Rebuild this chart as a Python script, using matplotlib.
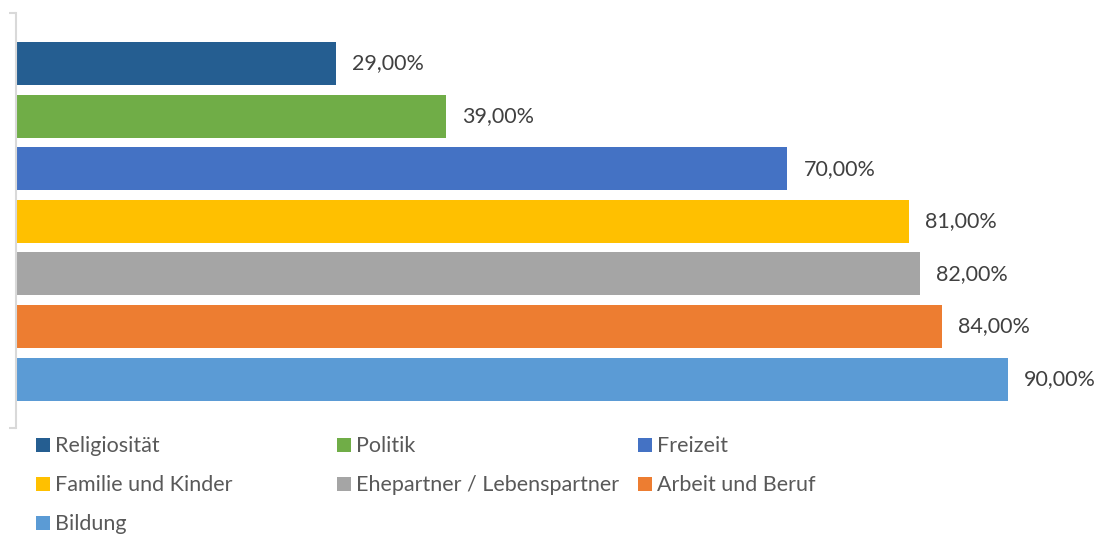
import matplotlib.pyplot as plt
from matplotlib.patches import Rectangle

plt.rcParams['font.family'] = ['Lato', 'DejaVu Sans']

categories = ['Religiosität', 'Politik', 'Freizeit', 'Familie und Kinder',
              'Ehepartner / Lebenspartner', 'Arbeit und Beruf', 'Bildung']
values = [0.29, 0.39, 0.70, 0.81, 0.82, 0.84, 0.90]
colors = ['#255E91', '#70AD47', '#4472C4', '#FFC000', '#A5A5A5', '#ED7D31', '#5B9BD5']

W, H = 1102, 534
fig = plt.figure(figsize=(W / 100, H / 100), dpi=100)
ax = fig.add_axes([16 / W, 1 - 428 / H, 1 - 16 / W, (428 - 13) / H])

pos = list(range(len(values)))
ax.barh(pos, values, height=0.815, color=colors)

# value labels right of each bar
for p, v in zip(pos, values):
    ax.text(v + 0.015, p, f'{v * 100:.2f}'.replace('.', ',') + '%',
            va='center', ha='left', fontsize=15.5, color='#404040')

ax.set_xlim(0, (W - 16) / 1102)
ylo, yhi = -0.96, 6.93
ax.set_ylim(yhi, ylo)

for s in ['top', 'right', 'bottom']:
    ax.spines[s].set_visible(False)
ax.spines['left'].set_color('#d9d9d9')
ax.spines['left'].set_linewidth(1.5)
ax.set_xticks([])
ax.set_yticks([ylo, yhi])
ax.set_yticklabels([])
ax.tick_params(axis='y', length=5, width=1.5, color='#d9d9d9', direction='out')

# legend, filled row by row
for i, (name, c) in enumerate(zip(categories, colors)):
    row, col = divmod(i, 3)
    x = 36 + col * 301
    y = 445 + row * 39
    fig.add_artist(Rectangle((x / W, 1 - (y + 7) / H), 14 / W, 14 / H,
                             transform=fig.transFigure, color=c, lw=0))
    fig.text((x + 19) / W, 1 - (y + 1) / H, name, va='center', ha='left',
             fontsize=15.5, color='#595959')

fig.savefig('out.png', dpi=100)
